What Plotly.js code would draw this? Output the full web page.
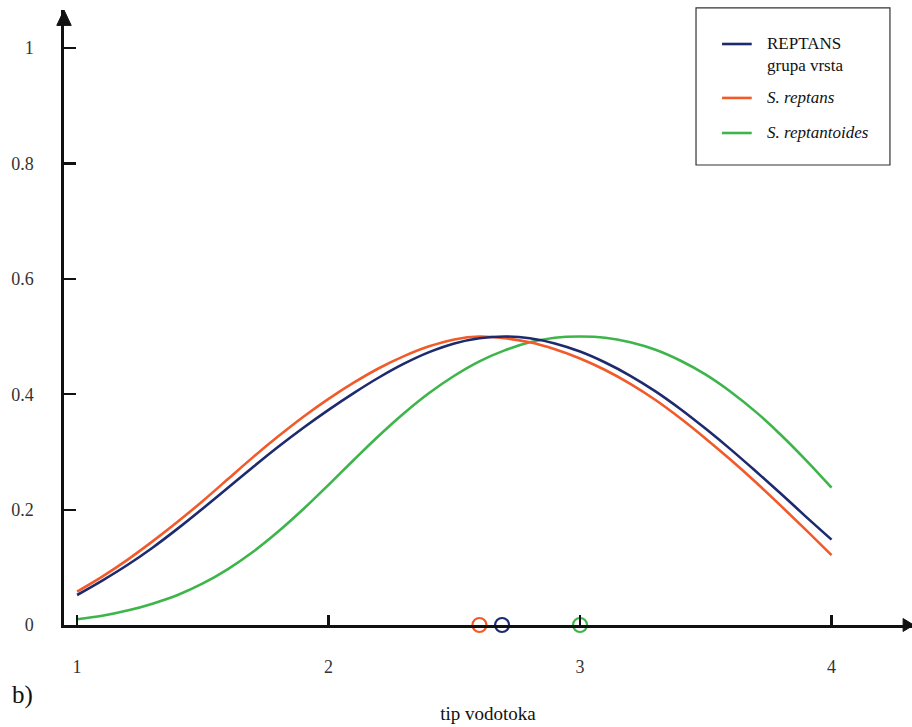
<!DOCTYPE html>
<html>
<head>
<meta charset="utf-8">
<script src="https://cdn.plot.ly/plotly-3.0.1.min.js"></script>
<style>html,body{margin:0;padding:0;background:#fff;}#chart{width:912px;height:727px;}</style>
</head>
<body>
<div id="chart"></div>
<script>
// ---- data ----
const xVals = [1.0, 1.1, 1.2, 1.3, 1.4, 1.5, 1.6, 1.7, 1.8, 1.9, 2.0, 2.1, 2.2, 2.3, 2.4, 2.5,
               2.6, 2.7, 2.8, 2.9, 3.0, 3.1, 3.2, 3.3, 3.4, 3.5, 3.6, 3.7, 3.8, 3.9, 4.0];
const seriesNames = ["REPTANS<br>grupa vrsta", "<i>S. reptans</i>", "<i>S. reptantoides</i>"];
const blueY   = [0.052, 0.077, 0.104, 0.134, 0.167, 0.202, 0.238, 0.274, 0.309, 0.342, 0.373, 0.402, 0.429, 0.453, 0.473, 0.488,
                 0.497, 0.500, 0.497, 0.488, 0.474, 0.455, 0.432, 0.405, 0.374, 0.340, 0.304, 0.266, 0.227, 0.187, 0.148];
const orangeY = [0.058, 0.084, 0.113, 0.145, 0.179, 0.215, 0.253, 0.291, 0.327, 0.361, 0.392, 0.420, 0.445, 0.466, 0.483, 0.495,
                 0.500, 0.497, 0.490, 0.478, 0.462, 0.442, 0.418, 0.390, 0.358, 0.323, 0.286, 0.247, 0.206, 0.164, 0.121];
const greenY  = [0.010, 0.016, 0.025, 0.037, 0.052, 0.072, 0.097, 0.127, 0.162, 0.201, 0.243, 0.286, 0.328, 0.367, 0.402, 0.432,
                 0.457, 0.476, 0.490, 0.498, 0.500, 0.498, 0.490, 0.477, 0.458, 0.434, 0.404, 0.369, 0.329, 0.285, 0.238];
const optimumX = [2.69, 2.60, 3.00];   // curve maxima marked on the x axis
const xTicks = [1, 2, 3, 4];
const xTickText = ["1", "2", "3", "4"];
const yTicks = [0, 0.2, 0.4, 0.6, 0.8, 1];
const yTickText = ["0", "0.2", "0.4", "0.6", "0.8", "1"];
const xTitle = "tip vodotoka";
const panelLabel = "b)";

const colors = ["#1d2a6e", "#f25a29", "#3db54a"];
const seriesY = [blueY, orangeY, greenY];
const serif = "Liberation Serif";

const traces = [];
// draw order: green, orange, blue (blue on top)
[2, 1, 0].forEach(i => {
  traces.push({
    x: xVals, y: seriesY[i], type: "scatter", mode: "lines",
    line: {color: colors[i], width: 2.6, shape: "spline", smoothing: 1.0},
    name: seriesNames[i], showlegend: false, hoverinfo: "skip"
  });
});
[1, 0, 2].forEach(i => {
  traces.push({
    x: [optimumX[i]], y: [0], type: "scatter", mode: "markers",
    marker: {symbol: "circle-open", size: 14, color: colors[i], line: {width: 2.2, color: colors[i]}},
    cliponaxis: false, showlegend: false, hoverinfo: "skip"
  });
});

// manual legend (box, sample lines, labels)
const shapes = [];
const annotations = [];
const legendBox = {x0: 0.7453, x1: 0.974, y0: 0.748, y1: 1.0033};
shapes.push({type: "rect", xref: "paper", yref: "paper", x0: legendBox.x0, x1: legendBox.x1, y0: legendBox.y0, y1: legendBox.y1,
  line: {color: "#333", width: 1.2}, fillcolor: "rgba(0,0,0,0)"});
const legendRowY = [0.9447, 0.857, 0.80];
seriesNames.forEach((nm, i) => {
  shapes.push({type: "line", xref: "paper", yref: "paper", x0: 0.776, x1: 0.811, y0: legendRowY[i], y1: legendRowY[i],
    line: {color: colors[i], width: 2.6}});
  annotations.push({xref: "paper", yref: "paper", x: 0.827, y: i === 0 ? legendRowY[i] + 0.019 : legendRowY[i],
    xanchor: "left", yanchor: i === 0 ? "top" : "middle", align: "left", showarrow: false,
    text: nm, font: {family: serif, size: 17, color: "#111"}});
});

// axis arrowheads
shapes.push({type: "path", xref: "paper", yref: "paper", path: "M -0.0085 0.975 L 0 1.0 L 0.0085 0.975 Z",
  fillcolor: "#111", line: {color: "#111", width: 1}});
shapes.push({type: "path", xref: "paper", yref: "paper", path: "M 0.9895 -0.0105 L 1.002 0 L 0.9895 0.0105 Z",
  fillcolor: "#111", line: {color: "#111", width: 1}});

annotations.push({xref: "paper", yref: "paper", x: -0.064, y: -0.114, xanchor: "left", yanchor: "middle",
  showarrow: false, text: panelLabel, font: {family: serif, size: 25, color: "#111"}});

const layout = {
  width: 912, height: 727,
  margin: {l: 64, r: 0, t: 10, b: 102},
  paper_bgcolor: "#fff", plot_bgcolor: "#fff",
  showlegend: false,
  font: {family: serif, color: "#222"},
  xaxis: {
    range: [0.948, 4.32], showgrid: false, zeroline: false,
    showline: true, linecolor: "#111", linewidth: 2.6,
    ticks: "inside", ticklen: 10, tickwidth: 2.2, tickcolor: "#111",
    tickvals: xTicks, ticktext: xTickText, ticklabelstandoff: 24,
    tickfont: {family: serif, size: 18, color: "#333"},
    title: {text: xTitle, standoff: 31, font: {family: serif, size: 19, color: "#111"}},
    automargin: false
  },
  yaxis: {
    range: [0, 1.066], showgrid: false, zeroline: false,
    showline: true, linecolor: "#111", linewidth: 2.6,
    ticks: "inside", ticklen: 12, tickwidth: 2.2, tickcolor: "#111",
    tickvals: yTicks, ticktext: yTickText, ticklabelstandoff: 24,
    tickfont: {family: serif, size: 18, color: "#333"},
    automargin: false
  },
  shapes: shapes,
  annotations: annotations
};

Plotly.newPlot("chart", traces, layout, {displayModeBar: false, staticPlot: true});
</script>
</body>
</html>
